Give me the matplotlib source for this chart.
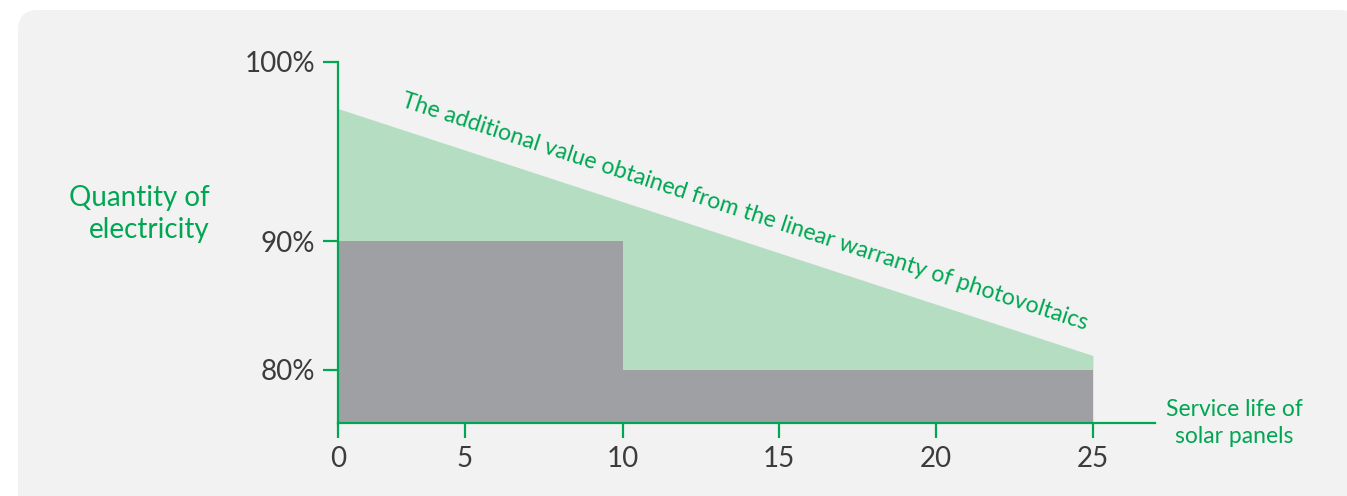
#!/usr/bin/env python3
import numpy as np
import matplotlib

matplotlib.use("Agg")
import matplotlib.pyplot as plt
from matplotlib.patches import FancyBboxPatch
from matplotlib.transforms import IdentityTransform


# --- data ---
years_linear = [0, 25]
linear_warranty = [97.4, 81.1]          # linear warranty, % of rated output

years_step = [0, 10, 25]
step_warranty = [90, 80, 80]            # classic step warranty

x_ticks = [0, 5, 10, 15, 20, 25]
y_ticks = [80, 90, 100]
y_tick_labels = ["80%", "90%", "100%"]

# The reference axes are schematic (not evenly spaced), so map the tick
# values onto the pixel distances seen in the picture.
X_KNOTS_PX = [0, 127, 284.7, 441.3, 597.7, 754.9]
Y_KNOTS_PX = [0, 128.7, 307.7]

W, H = 1347, 496
GREEN = "#00a651"
LIGHT_GREEN = "#b5ddc2"
GREY = "#9fa0a4"
PANEL = "#f2f2f2"
DARK = "#3c3c3c"

plt.rcParams["font.family"] = ["Lato", "DejaVu Sans"]


def piecewise(xp, fp):
    xp = np.asarray(xp, float)
    fp = np.asarray(fp, float)

    def f(v, a, b):
        v = np.asarray(v, float)
        out = np.interp(v, a, b)
        lo = v < a[0]
        hi = v > a[-1]
        out = np.where(lo, b[0] + (v - a[0]) * (b[1] - b[0]) / (a[1] - a[0]), out)
        out = np.where(hi, b[-1] + (v - a[-1]) * (b[-1] - b[-2]) / (a[-1] - a[-2]), out)
        return out

    return (lambda v: f(v, xp, fp)), (lambda v: f(v, fp, xp))


def px(x, y):
    # figure pixel (from top-left) -> figure fraction
    return x / W, 1 - y / H


fig = plt.figure(figsize=(W / 100, H / 100), dpi=100)
fig.patch.set_facecolor("white")

panel = FancyBboxPatch(
    (18, -40), 1342, H - 10 + 40,
    boxstyle="round,pad=0,rounding_size=20",
    facecolor=PANEL, edgecolor="none", transform=IdentityTransform(), zorder=-5,
)
fig.patches.append(panel)

left, right = px(338, 0)[0], px(1155, 0)[0]
bottom, top = px(0, 423)[1], px(0, 62)[1]
ax = fig.add_axes([left, bottom, right - left, top - bottom])
ax.set_facecolor("none")

ax.set_xscale("function", functions=piecewise(x_ticks, X_KNOTS_PX))
ax.set_yscale("function", functions=piecewise(y_ticks, Y_KNOTS_PX))

x_end = 25 + (1155 - 338 - X_KNOTS_PX[-1]) * 5 / (X_KNOTS_PX[-1] - X_KNOTS_PX[-2])
y_bottom = 80 - (423 - 369.7) * 10 / Y_KNOTS_PX[1]
ax.set_xlim(0, x_end)
ax.set_ylim(y_bottom, 100)

ax.fill_between(years_linear, linear_warranty, y_bottom, color=LIGHT_GREEN, lw=0, zorder=1)
ax.fill_between(years_step, step_warranty, y_bottom, step="post", color=GREY, lw=0, zorder=2)

for s in ["top", "right"]:
    ax.spines[s].set_visible(False)
for s in ["left", "bottom"]:
    ax.spines[s].set_color(GREEN)
    ax.spines[s].set_linewidth(1.6)
    ax.spines[s].set_zorder(3)

ax.set_xticks(x_ticks)
ax.set_xticklabels([str(t) for t in x_ticks])
ax.set_yticks(y_ticks)
ax.set_yticklabels(y_tick_labels)
ax.minorticks_off()
ax.tick_params(axis="both", colors=GREEN, labelcolor=DARK, width=1.6,
               length=10.5, labelsize=20)
ax.tick_params(axis="x", pad=6)
ax.tick_params(axis="y", pad=6)

fig.text(*px(210, 214), "Quantity of\nelectricity", color=GREEN, fontsize=20,
         ha="right", va="center", multialignment="right", linespacing=1.27)
fig.text(*px(1234, 423), "Service life of\nsolar panels", color=GREEN, fontsize=16.5,
         ha="center", va="center", multialignment="center", linespacing=1.35)
fig.text(*px(400, 106), "The additional value obtained from the linear warranty of photovoltaics",
         color=GREEN, fontsize=16.6, rotation=-18.1, rotation_mode="anchor",
         ha="left", va="baseline")

fig.savefig("out.png", dpi=100)
